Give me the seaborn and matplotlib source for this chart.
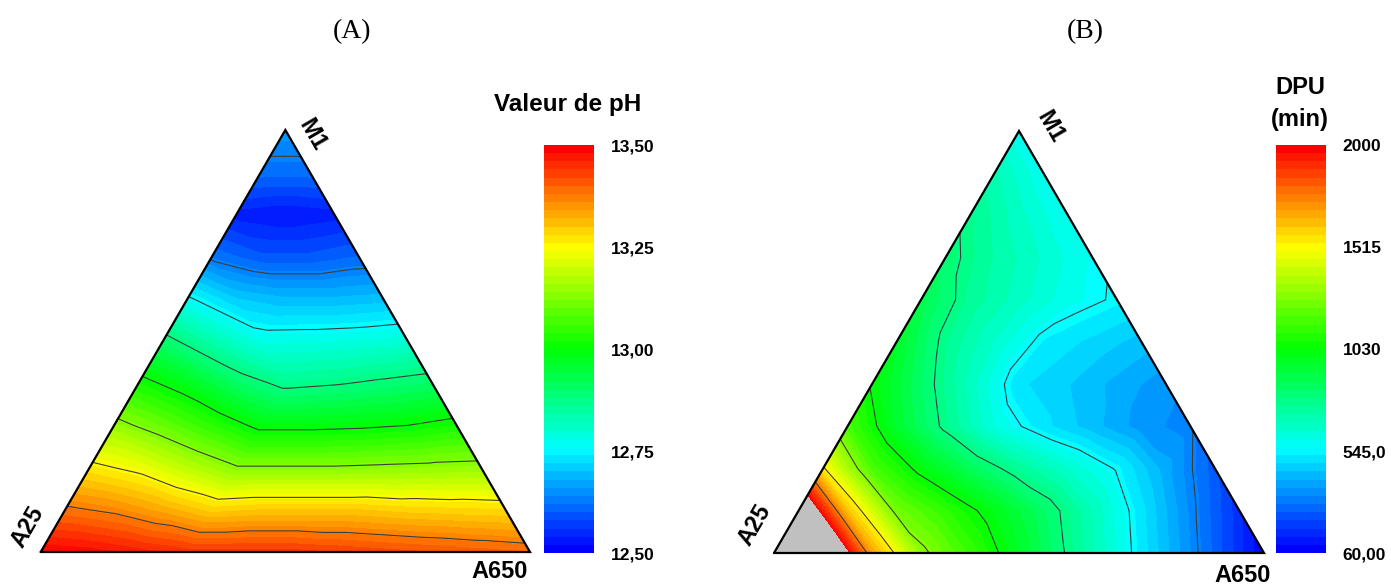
import numpy as np
import matplotlib
matplotlib.use("Agg")
import matplotlib.pyplot as plt
import matplotlib.tri as mtri
from matplotlib.colors import BoundaryNorm
from matplotlib.cm import ScalarMappable
import seaborn as sns

# values on a simplex lattice: row k -> M1 = k/10, from A25 side (left) to A650 side (right)
ph_rows = [
    [13.50, 13.49, 13.47, 13.45, 13.45, 13.45, 13.44, 13.43, 13.42, 13.41, 13.40],
    [13.385, 13.365, 13.33, 13.29, 13.30, 13.30, 13.30, 13.29, 13.285, 13.28],
    [13.265, 13.235, 13.18, 13.13, 13.13, 13.13, 13.135, 13.14, 13.145],
    [13.145, 13.095, 13.04, 12.985, 12.985, 12.99, 13.00, 13.02],
    [13.02, 12.97, 12.905, 12.86, 12.87, 12.885, 12.90],
    [12.895, 12.83, 12.773, 12.775, 12.78, 12.79],
    [12.757, 12.70, 12.683, 12.683, 12.69],
    [12.615, 12.585, 12.585, 12.60],
    [12.53, 12.52, 12.53],
    [12.61, 12.61],
    [12.65],
]
dpu_rows = [
    [3000, 2336, 1690, 1300, 1134, 956, 775, 598, 420, 241, 60],
    [2253, 1622, 1243, 1116, 984, 842, 678, 500, 322, 150],
    [1530, 1167, 1000, 866, 744, 642, 537, 387, 230],
    [1163, 941, 766, 600, 500, 425, 350, 310],
    [1018, 834, 662, 495, 450, 395, 345],
    [953, 759, 637, 520, 475, 430],
    [889, 745, 660, 578, 535],
    [820, 715, 635, 560],
    [765, 655, 565],
    [690, 570],
    [570],
]

ph_range = (12.5, 13.5)
ph_ticks = [12.5, 12.75, 13.0, 13.25, 13.5]
ph_ticklabels = ["12,50", "12,75", "13,00", "13,25", "13,50"]
dpu_range = (60, 2000)
dpu_ticks = [60, 545, 1030, 1515, 2000]
dpu_ticklabels = ["60,00", "545,0", "1030", "1515", "2000"]

W, H = 1391, 586
SQ = np.sqrt(3) / 2

sns.set_style("white")
plt.rcParams["font.family"] = ["Liberation Sans", "DejaVu Sans"]
plt.rcParams["text.color"] = "black"
plt.rcParams["ytick.color"] = "black"

cmap = sns.blend_palette(["#0000ff", "#00ffff", "#00ff00", "#ffff00", "#ff0000"], n_colors=256, as_cmap=True)
cmap = cmap.with_extremes(over="#c0c0c0")


def lattice(rows):
    n = len(rows) - 1
    xs, ys, zs = [], [], []
    for k, row in enumerate(rows):
        for j, v in enumerate(row):
            xs.append(k / (2 * n) + j / n)
            ys.append(k / n * SQ)
            zs.append(v)
    return mtri.Triangulation(xs, ys), np.array(zs, dtype=float)


fig = plt.figure(figsize=(W / 100, H / 100), dpi=100)


def px_axes(left, top, right, bottom):
    return fig.add_axes([left / W, 1 - bottom / H, (right - left) / W, (bottom - top) / H])


def px_text(x, y, s, **kw):
    fig.text(x / W, 1 - y / H, s, ha="center", va="center", color="black", **kw)


def panel(tri_box, cbar_box, rows, vrange, ticks, ticklabels):
    ax = px_axes(*tri_box)
    tri, z = lattice(rows)
    fill_levels = np.linspace(vrange[0], vrange[1], 51)
    line_levels = np.linspace(vrange[0], vrange[1], 9)[1:-1]
    ax.tricontourf(tri, z, levels=fill_levels, cmap=cmap, extend="max")
    ax.tricontour(tri, z, levels=line_levels, colors="#3c3c3c", linewidths=0.8)
    ax.plot([0, 1, 0.5, 0], [0, 0, SQ, 0], color="black", lw=1.6, clip_on=False,
            solid_joinstyle="miter")
    ax.set_xlim(0, 1)
    ax.set_ylim(0, SQ)
    ax.axis("off")

    cax = px_axes(*cbar_box)
    norm = BoundaryNorm(fill_levels, cmap.N)
    cb = fig.colorbar(ScalarMappable(norm=norm, cmap=cmap), cax=cax, ticks=ticks)
    cb.outline.set_visible(False)
    cb.minorticks_off()
    cb.set_ticklabels(ticklabels)
    cax.tick_params(which="both", length=0, pad=12)
    for t in cax.get_yticklabels():
        t.set_fontsize(12.5)
        t.set_fontweight("bold")
        t.set_color("black")


panel((40.7, 130, 530, 552), (544, 145, 594, 553), ph_rows, ph_range, ph_ticks, ph_ticklabels)
panel((774, 131, 1264, 553), (1276, 145, 1326, 553), dpu_rows, dpu_range, dpu_ticks, dpu_ticklabels)

lab = dict(fontsize=17, fontweight="bold")
px_text(312, 135, "M1", rotation=-60, **lab)
px_text(28, 527, "A25", rotation=60, **lab)
px_text(500, 572, "A650", **lab)
px_text(1050, 127, "M1", rotation=-60, **lab)
px_text(755, 525, "A25", rotation=60, **lab)
px_text(1243, 575, "A650", **lab)

px_text(568, 105, "Valeur de pH", fontsize=17.5, fontweight="bold")
px_text(1300, 88, "DPU", **lab)
px_text(1300, 120, "(min)", **lab)

px_text(352, 32, "(A)", fontsize=20, family="Liberation Serif")
px_text(1085, 32, "(B)", fontsize=20, family="Liberation Serif")

fig.savefig("out.png", dpi=100)
